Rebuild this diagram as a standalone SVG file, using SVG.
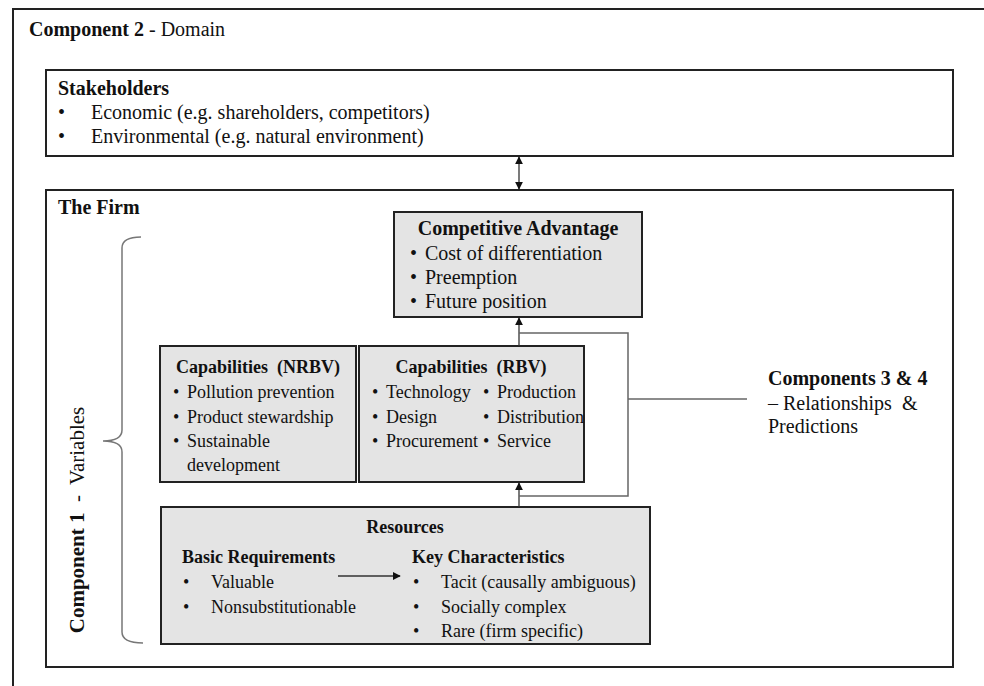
<svg xmlns="http://www.w3.org/2000/svg" width="984" height="686" viewBox="0 0 984 686">
<defs>
<style>
text{font-family:"Liberation Serif","Times New Roman",serif;font-size:20px;fill:#111;white-space:pre}
.b{font-weight:bold}
.s{font-size:18px}
.box{fill:#e4e4e4;stroke:#222;stroke-width:2}
.frame{fill:#fff;stroke:#222;stroke-width:2}
.conn{fill:none;stroke:#666;stroke-width:1.5}
.arr{fill:none;stroke:#333;stroke-width:1.3}
.mid{text-anchor:middle}
</style>
<marker id="ah" viewBox="0 0 10 10" refX="9" refY="5" markerWidth="8" markerHeight="8" markerUnits="userSpaceOnUse" orient="auto-start-reverse">
<path d="M0,0 L10,5 L0,10 z" fill="#111"/>
</marker>
</defs>
<rect width="984" height="686" fill="#fff"/>
<g id="outer">
<rect x="13" y="9" width="1000" height="720" fill="none" stroke="#222" stroke-width="2"/>
<text x="29" y="36"><tspan class="b">Component 2</tspan> - Domain</text>
</g>
<g id="stakeholders">
<rect class="frame" x="46" y="70" width="907" height="86"/>
<text x="58" y="95" class="b">Stakeholders</text>
<text x="58" y="119">•</text><text x="91" y="119">Economic (e.g. shareholders, competitors)</text>
<text x="58" y="143">•</text><text x="91" y="143">Environmental (e.g. natural environment)</text>
</g>
<g id="firm">
<rect class="frame" x="46" y="190" width="907" height="477"/>
<text x="58" y="214" class="b">The Firm</text>
</g>
<g id="component1">
<path d="M141,237 Q122,237 122,248 L122,430 Q122,441 103,441 Q122,441 122,452 L122,632 Q122,643 143,643" fill="none" stroke="#777" stroke-width="1.5"/>
<text transform="translate(84,520) rotate(-90)" class="mid" style="font-size:21px"><tspan class="b">Component 1</tspan>  -  Variables</text>
</g>
<g id="competitive-advantage">
<rect class="box" x="394" y="212" width="248" height="105"/>
<text x="518" y="235" class="b mid">Competitive Advantage</text>
<text x="410" y="260">•</text><text x="425" y="260">Cost of differentiation</text>
<text x="410" y="284">•</text><text x="425" y="284">Preemption</text>
<text x="410" y="308">•</text><text x="425" y="308">Future position</text>
</g>
<g id="capabilities-nrbv">
<rect class="box" x="160" y="346" width="196" height="136"/>
<text x="258" y="373" class="b mid s">Capabilities  (NRBV)</text>
<text x="173" y="398" class="s">•</text><text x="187" y="398" class="s">Pollution prevention</text>
<text x="173" y="423" class="s">•</text><text x="187" y="423" class="s">Product stewardship</text>
<text x="173" y="447" class="s">•</text><text x="187" y="447" class="s">Sustainable</text>
<text x="187" y="471" class="s">development</text>
</g>
<g id="capabilities-rbv">
<rect class="box" x="359" y="346" width="225" height="136"/>
<text x="471" y="373" class="b mid s">Capabilities  (RBV)</text>
<text x="372" y="398" class="s">•</text><text x="386" y="398" class="s">Technology</text>
<text x="372" y="423" class="s">•</text><text x="386" y="423" class="s">Design</text>
<text x="372" y="447" class="s">•</text><text x="386" y="447" class="s">Procurement</text>
<text x="483" y="398" class="s">•</text><text x="497" y="398" class="s">Production</text>
<text x="483" y="423" class="s">•</text><text x="497" y="423" class="s">Distribution</text>
<text x="483" y="447" class="s">•</text><text x="497" y="447" class="s">Service</text>
</g>
<g id="resources">
<rect class="box" x="161" y="507" width="489" height="137"/>
<text x="405" y="533" class="b mid s">Resources</text>
<text x="182" y="563" class="b s">Basic Requirements</text>
<text x="183" y="588" class="s">•</text><text x="211" y="588" class="s">Valuable</text>
<text x="183" y="613" class="s">•</text><text x="211" y="613" class="s">Nonsubstitutionable</text>
<text x="412" y="563" class="b s">Key Characteristics</text>
<text x="413" y="588" class="s">•</text><text x="441" y="588" class="s">Tacit (causally ambiguous)</text>
<text x="413" y="613" class="s">•</text><text x="441" y="613" class="s">Socially complex</text>
<text x="413" y="637" class="s">•</text><text x="441" y="637" class="s">Rare (firm specific)</text>
</g>
<g id="components34">
<text x="768" y="385" class="b">Components 3 &amp; 4</text>
<text x="768" y="410">– Relationships  &amp;</text>
<text x="768" y="433">Predictions</text>
</g>
<g id="connectors">
<line class="arr" x1="519" y1="157" x2="519" y2="189" marker-start="url(#ah)" marker-end="url(#ah)"/>
<line class="arr" x1="519" y1="346" x2="519" y2="318" marker-end="url(#ah)"/>
<line class="arr" x1="519" y1="507" x2="519" y2="483" marker-end="url(#ah)"/>
<line class="arr" x1="338" y1="576" x2="400" y2="576" marker-end="url(#ah)"/>
<polyline class="conn" points="519,333 628,333 628,496 519,496"/>
<line class="conn" x1="628" y1="399" x2="747" y2="399"/>
</g>
</svg>
